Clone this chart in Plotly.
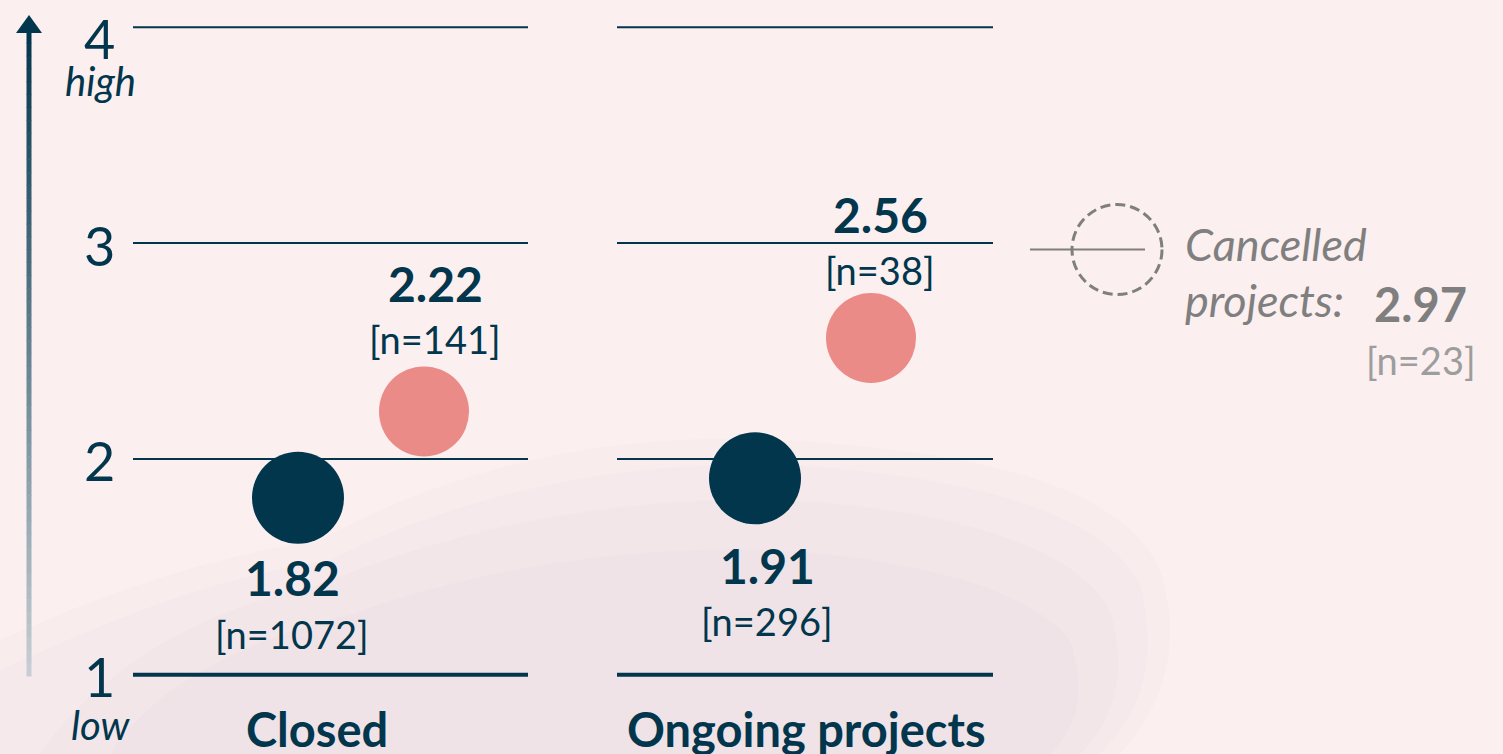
import plotly.graph_objects as go

# ---------------- data ----------------
categories = ["Closed", "Ongoing projects"]
dark_values = [1.82, 1.91]
dark_n = [1072, 296]
pink_values = [2.22, 2.56]
pink_n = [141, 38]
cancelled_value = 2.97
cancelled_n = 23
y_ticks = [1, 2, 3, 4]
y_tick_labels = ["1", "2", "3", "4"]
low_label, high_label = "low", "high"
cancelled_label = ["Cancelled", "projects:"]

# ---------------- layout constants (pixels) ----------------
W, H = 1503, 754
NAVY = "#02364d"
PINK = "#ea8b88"
GRAY = "#7f7f7f"
BG = "#fbefef"
FONT = "Lato"

# pixel mapping of the value axis (y=1 at ~674px, 215.8 px per unit)
Y_MIN, Y_MAX = 0.6325, 4.1265
PX_PER_UNIT = H / (Y_MAX - Y_MIN)

dark_x = [298, 755]
pink_x = [424, 871]
segments = [(133, 528), (617, 993)]
cat_x = [317, 806]

fig = go.Figure()


def py(p):
    return 1 - p / H


def to_paper_path(s):
    out = []
    for tok in s.split():
        if "," in tok:
            a, b = tok.split(",")
            out.append(f"{float(a)/W:.5f},{py(float(b)):.5f}")
        else:
            out.append(tok)
    return " ".join(out)


shapes = []
# faint soft cloud in background (layered, very low opacity)
clouds = [
    "M 0,754 L 0,640 C 90,600 190,560 320,540 C 430,480 580,430 780,440 "
    "C 960,450 1120,480 1160,570 C 1185,650 1160,710 1120,754 Z",
    "M 0,754 L 0,670 C 100,625 200,580 330,560 C 450,500 600,460 790,465 "
    "C 950,475 1100,505 1140,585 C 1160,660 1140,715 1100,754 Z",
    "M 40,754 C 90,680 190,610 320,585 C 450,530 610,495 790,500 "
    "C 940,510 1070,540 1110,610 C 1130,680 1110,725 1080,754 Z",
    "M 110,754 C 150,690 240,640 350,615 C 470,570 620,545 780,550 "
    "C 920,560 1030,590 1070,640 C 1090,700 1070,735 1050,754 Z",
]
for s in clouds:
    shapes.append(dict(type="path", xref="paper", yref="paper", path=to_paper_path(s),
                       fillcolor="rgba(140,140,155,0.022)", line=dict(width=0), layer="below"))

# grid segments
for (x0, x1) in segments:
    for t in y_ticks:
        shapes.append(dict(type="line", xref="x", yref="y", x0=x0, x1=x1, y0=t, y1=t,
                           line=dict(color=NAVY, width=4 if t == y_ticks[0] else 2), layer="below"))

# gradient arrow axis on the left
AX_X = 29
top_p, bot_p = 30, 676
nseg = 50
c_top = (2, 54, 77)
c_bot = (200, 208, 213)
for i in range(nseg):
    p0 = top_p + (bot_p - top_p) * i / nseg
    p1 = top_p + (bot_p - top_p) * (i + 1) / nseg
    f = (i + 0.5) / nseg
    c = tuple(int(c_top[k] + (c_bot[k] - c_top[k]) * f) for k in range(3))
    shapes.append(dict(type="line", xref="paper", yref="paper",
                       x0=AX_X / W, x1=AX_X / W, y0=py(p0), y1=py(p1 + 0.5),
                       line=dict(color=f"rgb{c}", width=5)))
shapes.append(dict(type="path", xref="paper", yref="paper",
                   path=f"M {16/W},{py(33)} L {42/W},{py(33)} L {29/W},{py(15)} Z",
                   fillcolor=NAVY, line=dict(width=0)))

# cancelled: dashed circle + line
r_px = 45
r_u = r_px / PX_PER_UNIT
cx = 1117
shapes.append(dict(type="line", xref="x", yref="y", x0=1030, x1=1145,
                   y0=cancelled_value, y1=cancelled_value, line=dict(color=GRAY, width=2)))
shapes.append(dict(type="circle", xref="x", yref="y", x0=cx - r_px, x1=cx + r_px,
                   y0=cancelled_value - r_u, y1=cancelled_value + r_u,
                   line=dict(color=GRAY, width=3, dash="10px,5px")))

# markers
fig.add_trace(go.Scatter(x=dark_x, y=dark_values, mode="markers",
                         marker=dict(size=92, color=NAVY, line=dict(width=0)),
                         hoverinfo="skip", showlegend=False))
fig.add_trace(go.Scatter(x=pink_x, y=pink_values, mode="markers",
                         marker=dict(size=90, color=PINK, line=dict(width=0)),
                         hoverinfo="skip", showlegend=False))

VAL_SIZE = 48
N_SIZE = 38
ann = []
# dark labels (below)
dark_dx = [-6, 12]
dark_dy = [-80, -87]
for i in range(len(categories)):
    ann.append(dict(x=dark_x[i], y=dark_values[i], xref="x", yref="y", text=f"<b>{dark_values[i]:.2f}</b>",
                    showarrow=False, xshift=dark_dx[i], yshift=dark_dy[i],
                    font=dict(family=FONT, size=VAL_SIZE, color=NAVY), yanchor="middle"))
    ann.append(dict(x=dark_x[i], y=dark_values[i], xref="x", yref="y", text=f"[n={dark_n[i]}]",
                    showarrow=False, xshift=dark_dx[i], yshift=dark_dy[i] - 56,
                    font=dict(family=FONT, size=N_SIZE, color=NAVY), yanchor="middle"))
# pink labels (above)
pink_dx = [11, 9]
pink_dy = [128, 124]
for i in range(len(categories)):
    ann.append(dict(x=pink_x[i], y=pink_values[i], xref="x", yref="y", text=f"<b>{pink_values[i]:.2f}</b>",
                    showarrow=False, xshift=pink_dx[i], yshift=pink_dy[i],
                    font=dict(family=FONT, size=VAL_SIZE, color=NAVY), yanchor="middle"))
    ann.append(dict(x=pink_x[i], y=pink_values[i], xref="x", yref="y", text=f"[n={pink_n[i]}]",
                    showarrow=False, xshift=pink_dx[i], yshift=pink_dy[i] - 56,
                    font=dict(family=FONT, size=N_SIZE, color=NAVY), yanchor="middle"))

# y tick labels
for t, lab in zip(y_ticks, y_tick_labels):
    ann.append(dict(x=99, y=t, xref="x", yref="y", text=lab, showarrow=False,
                    yshift=-2 if t != y_ticks[-1] else -11,
                    font=dict(family=FONT, size=54, color=NAVY), yanchor="middle"))
ann.append(dict(x=100, y=y_ticks[-1], xref="x", yref="y", text=f"<i>{high_label}</i>", showarrow=False,
                yshift=-54, font=dict(family=FONT, size=40, color=NAVY), yanchor="middle"))
ann.append(dict(x=100, y=y_ticks[0], xref="x", yref="y", text=f"<i>{low_label}</i>", showarrow=False,
                yshift=-50, font=dict(family=FONT, size=40, color=NAVY), yanchor="middle"))

# category labels
for i, c in enumerate(categories):
    ann.append(dict(x=cat_x[i], y=y_ticks[0], xref="x", yref="y", text=f"<b>{c}</b>", showarrow=False,
                    yshift=-54, font=dict(family=FONT, size=47, color=NAVY), yanchor="middle"))

# cancelled text
ann.append(dict(x=1183, y=cancelled_value, xref="x", yref="y", text=f"<i>{cancelled_label[0]}</i>",
                showarrow=False, xanchor="left", yshift=6, font=dict(family=FONT, size=45, color=GRAY),
                yanchor="middle"))
ann.append(dict(x=1183, y=cancelled_value, xref="x", yref="y", text=f"<i>{cancelled_label[1]}</i>",
                showarrow=False, xanchor="left", yshift=-50, font=dict(family=FONT, size=45, color=GRAY),
                yanchor="middle"))
ann.append(dict(x=1420, y=cancelled_value, xref="x", yref="y", text=f"<b>{cancelled_value:.2f}</b>",
                showarrow=False, yshift=-54, font=dict(family=FONT, size=47, color=GRAY),
                yanchor="middle"))
ann.append(dict(x=1421, y=cancelled_value, xref="x", yref="y", text=f"[n={cancelled_n}]",
                showarrow=False, yshift=-110, font=dict(family=FONT, size=N_SIZE, color="#9d9d9d"),
                yanchor="middle"))

fig.update_layout(
    width=W, height=H, margin=dict(l=0, r=0, t=0, b=0),
    paper_bgcolor=BG, plot_bgcolor=BG,
    xaxis=dict(range=[0, W], visible=False, fixedrange=True),
    yaxis=dict(range=[Y_MIN, Y_MAX], visible=False, fixedrange=True),
    shapes=shapes, annotations=ann, showlegend=False,
)
fig.write_html("out.html", config={"displayModeBar": False},
               post_script="document.body.style.margin='0';document.body.style.overflow='hidden';")
